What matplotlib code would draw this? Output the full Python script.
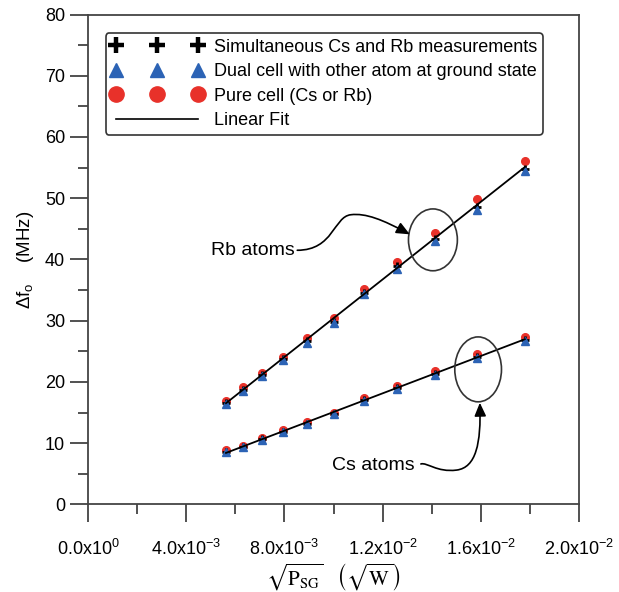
import numpy as np
import matplotlib.pyplot as plt
from matplotlib.patches import Ellipse, FancyArrowPatch
from matplotlib.path import Path
from matplotlib.ticker import MultipleLocator, FuncFormatter

plt.rcParams['font.family'] = ['Liberation Sans', 'DejaVu Sans']
plt.rcParams['mathtext.fontset'] = 'stix'
plt.rcParams['mathtext.default'] = 'regular'

# sqrt of signal generator power (sqrt W)
x = [0.00562, 0.00631, 0.00708, 0.00794, 0.00891, 0.0100,
     0.01122, 0.01259, 0.01413, 0.01585, 0.01778]

# Rb atoms
rb_simul = [16.6, 18.7, 21.1, 23.7, 26.6, 29.8, 34.6, 38.9, 43.4, 48.5, 54.8]
rb_dual = [16.4, 18.5, 21.0, 23.6, 26.4, 29.6, 34.3, 38.5, 43.0, 48.0, 54.4]
rb_pure = [16.9, 19.1, 21.5, 24.0, 27.2, 30.4, 35.2, 39.6, 44.3, 49.8, 56.0]

# Cs atoms
cs_simul = [8.6, 9.4, 10.6, 11.9, 13.2, 14.8, 17.0, 19.0, 21.3, 24.1, 26.8]
cs_dual = [8.5, 9.3, 10.5, 11.8, 13.1, 14.7, 16.9, 18.8, 21.1, 23.9, 26.6]
cs_pure = [8.8, 9.6, 10.8, 12.1, 13.5, 15.0, 17.3, 19.4, 21.8, 24.6, 27.3]

blue = '#2c63b5'
red = '#e8312a'

fig = plt.figure(figsize=(6.19, 5.92), dpi=100)
ax = fig.add_axes([0.142, 0.148, 0.794, 0.8275])

xa = np.array(x)
for simul, dual, pure in [(rb_simul, rb_dual, rb_pure), (cs_simul, cs_dual, cs_pure)]:
    ax.plot(x, pure, 'o', color=red, ms=5.5, mec=red, zorder=2)
    ax.plot(x, simul, '+', color='black', ms=6, mew=2.0, zorder=3)
    ax.plot(x, dual, '^', color=blue, ms=5.5, mec=blue, zorder=4)
    allx = np.concatenate([xa, xa, xa])
    ally = np.concatenate([simul, dual, pure])
    k, b = np.polyfit(allx, ally, 1)
    ax.plot(xa, k * xa + b, color='black', lw=1.3, zorder=5)

# legend handles
h1, = ax.plot([], [], '+', color='black', ms=11, mew=3.2)
h2, = ax.plot([], [], '^', color=blue, ms=10, mec=blue)
h3, = ax.plot([], [], 'o', color=red, ms=11, mec=red)
h4, = ax.plot([], [], color='black', lw=1.2)
leg = ax.legend([h1, h2, h3, h4],
                ['Simultaneous Cs and Rb measurements',
                 'Dual cell with other atom at ground state',
                 'Pure cell (Cs or Rb)',
                 'Linear Fit'],
                loc='upper left', bbox_to_anchor=(0.036, 0.962),
                numpoints=3, fontsize=13, handlelength=5.1,
                handletextpad=0.6, labelspacing=0.42, borderpad=0.3,
                borderaxespad=0.0, fancybox=True, framealpha=1)
leg.get_frame().set_edgecolor('#333333')
leg.get_frame().set_linewidth(1.2)

# ellipses and arrows
ax.add_patch(Ellipse((0.01404, 43.2), 0.00199, 10.1, fill=False,
                     ec='#333333', lw=1.2, zorder=6))
ax.add_patch(Ellipse((0.01588, 22.05), 0.0019, 10.6, fill=False,
                     ec='#333333', lw=1.2, zorder=6))

ax.text(0.00672, 41.5, 'Rb atoms', fontsize=14, ha='center', va='center')
ax.text(0.01160, 6.4, 'Cs atoms', fontsize=14, ha='center', va='center')

rb_path = Path([(0.00852, 41.5), (0.0100, 41.5), (0.0100, 47.0),
                (0.0107, 47.3), (0.0113, 47.6), (0.0120, 46.5),
                (0.0131, 44.1)],
               [Path.MOVETO, Path.CURVE4, Path.CURVE4, Path.CURVE4,
                Path.CURVE4, Path.CURVE4, Path.CURVE4])
ax.add_patch(FancyArrowPatch(path=rb_path, arrowstyle='-|>,head_length=8,head_width=3.5',
                             color='black', lw=1.2, zorder=6))
cs_path = Path([(0.01355, 6.6), (0.0138, 6.9), (0.0142, 5.2),
                (0.0150, 5.6), (0.0158, 6.0), (0.0160, 10.0),
                (0.01595, 16.6)],
               [Path.MOVETO, Path.CURVE4, Path.CURVE4, Path.CURVE4,
                Path.CURVE4, Path.CURVE4, Path.CURVE4])
ax.add_patch(FancyArrowPatch(path=cs_path, arrowstyle='-|>,head_length=8,head_width=3.5',
                             color='black', lw=1.2, zorder=6))

ax.set_xlim(0, 0.02)
ax.set_ylim(0, 80)
ax.xaxis.set_major_locator(MultipleLocator(0.004))
ax.xaxis.set_minor_locator(MultipleLocator(0.002))
ax.yaxis.set_major_locator(MultipleLocator(10))
ax.yaxis.set_minor_locator(MultipleLocator(5))


def sci(v, pos):
    if v == 0:
        return '0.0x10$^{0}$'
    e = int(np.floor(np.log10(abs(v)) + 1e-9))
    m = v / 10 ** e
    return '%.1fx10$^{%d}$' % (m, e)


ax.xaxis.set_major_formatter(FuncFormatter(sci))
ax.tick_params(which='major', direction='out', length=13, width=1.2,
               labelsize=13, colors='#333333', labelcolor='black')
ax.tick_params(which='minor', direction='out', length=7, width=1.2,
               colors='#333333')
ax.tick_params(axis='x', pad=12)
for s in ax.spines.values():
    s.set_linewidth(1.3)
    s.set_color('#444444')

ax.set_ylabel(r'$\Delta f_{o}$    (MHz)', fontsize=13.5, labelpad=6)
ax.set_xlabel(r'$\sqrt{\mathrm{P}_{\mathrm{SG}}}\quad\left(\sqrt{\mathrm{W}}\right)$',
              fontsize=15, labelpad=2)

fig.savefig('out.png', dpi=100)
